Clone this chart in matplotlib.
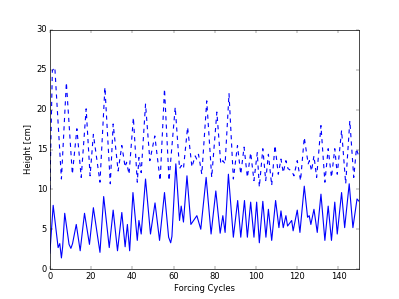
import matplotlib
matplotlib.use("Agg")
import matplotlib.pyplot as plt

# lower curve (solid): turning points
solid_x = [0, 1.6, 4, 4.8, 5.6, 6.2, 7.2, 9.3, 10.2, 11, 12.8, 14.7, 16.8, 19.2, 21.1,
           23.2, 24.3, 26.1, 28.8, 30.7, 32.8, 34.9, 36.5, 37.6, 38.7, 40.3, 42.4,
           43.2, 44.3, 46.4, 48.8, 51.0, 53.2, 55.6, 57.6, 58.6, 59.2, 61.1, 62.9,
           63.7, 64.8, 66.5, 68.4, 71.3, 73.2, 75.8, 78.2, 80.5, 82.6, 83.9, 85.0,
           86.6, 89.0, 91.1, 92.6, 94.4, 95.8, 97.4, 99.0, 100.3, 101.6, 103.3,
           104.8, 106.0, 107.6, 109.5, 111.1, 112.1, 113.2, 114.5, 115.3, 117.3,
           118.0, 120.0, 121.3, 123.4, 125.0, 125.8, 126.6, 128.1, 129.7, 131.5,
           133.4, 135.0, 136.6, 138.2, 139.4, 141.5, 143.0, 145.2, 147.0, 149.0, 150]
solid_y = [2.0, 8.0, 2.7, 3.2, 1.4, 2.8, 7.0, 3.1, 2.6, 3.2, 5.6, 2.3, 7.0, 3.1, 7.7,
           4.0, 2.1, 9.1, 2.7, 7.4, 2.3, 7.1, 2.8, 5.6, 2.3, 9.6, 3.6,
           6.1, 4.4, 11.3, 4.4, 8.3, 3.6, 9.6, 4.0, 3.3, 4.1, 13.2, 6.1,
           7.9, 5.9, 11.7, 5.6, 6.7, 5.0, 11.5, 4.4, 9.8, 4.5, 6.7, 4.6,
           11.9, 4.0, 8.6, 4.0, 8.6, 4.0, 8.4, 4.0, 8.4, 3.3, 8.5,
           4.0, 7.5, 3.6, 8.6, 5.2, 7.3, 5.2, 6.7, 5.4, 6.1,
           4.8, 7.4, 4.6, 10.4, 6.5, 6.7, 5.6, 7.5, 4.6, 9.4,
           3.6, 7.9, 3.6, 8.4, 4.4, 9.6, 5.2, 10.7, 5.2, 8.8, 8.5]

# upper curve (dashed)
dash_x = [0, 1.2, 2.4, 5.6, 8.0, 10.9, 13.1, 15.2, 17.6, 19.5, 21.1, 24.3, 26.7,
          29.3, 30.7, 33.1, 34.9, 36.5, 37.2, 38.4, 40.5, 42.4, 43.2, 44.3, 46.4,
          48.5, 50.9, 53.5, 55.6, 57.8, 60.8, 62.9, 63.8, 64.8, 66.8, 68.9, 70.5,
          71.2, 72.1, 73.7, 76.1, 78.5, 81.0, 82.9, 83.9, 85.0, 86.9, 89.0, 91.0,
          92.6, 94.2, 95.8, 97.4, 99.0, 100.6, 101.6, 103.3, 104.7, 106.0, 107.6,
          109.2, 110.8, 112.1, 113.2, 114.5, 115.5, 117.3, 118.4, 120.0, 121.6,
          123.4, 125.3, 125.9, 126.9, 128.1, 129.4, 131.5, 133.4, 135.0, 136.6,
          138.2, 139.4, 141.5, 143.5, 145.5, 147.4, 148.7, 150]
dash_y = [10.0, 24.9, 25.3, 11.3, 23.4, 11.9, 17.6, 11.5, 20.1, 11.7, 16.9, 10.9, 22.8,
          10.7, 18.2, 12.3, 15.5, 12.8, 13.4, 11.9, 19.0, 10.9, 14.0, 12.1, 20.7,
          13.6, 16.7, 11.1, 22.6, 11.1, 20.3, 12.6, 13.0, 12.6, 17.8, 12.8, 14.2,
          13.8, 14.4, 11.9, 21.1, 11.5, 19.7, 13.2, 13.6, 13.2, 22.0, 11.3, 15.5,
          11.9, 15.3, 11.5, 14.6, 11.1, 14.6, 10.3, 15.1, 11.1, 14.4, 10.5,
          15.5, 11.9, 13.8, 12.1, 13.6, 12.6, 12.3, 11.7, 13.6, 11.1,
          16.5, 13.2, 13.6, 12.3, 14.2, 11.5, 18.0, 10.9, 15.1, 11.5,
          15.1, 11.9, 17.4, 10.7, 18.6, 11.5, 15.1, 14.0]

plt.style.use("classic")
fig = plt.figure(figsize=(7.98, 5.98), dpi=50)
ax = fig.add_subplot(111)
fig.subplots_adjust(left=0.125, right=0.9, bottom=0.1, top=0.9)

ax.plot(dash_x, dash_y, "b--", lw=1.6, solid_joinstyle="round", dash_joinstyle="round")
ax.plot(solid_x, solid_y, "b-", lw=1.6, solid_joinstyle="round")

ax.set_xlim(0, 150)
ax.set_ylim(0, 30)
ax.set_xlabel("Forcing Cycles")
ax.set_ylabel("Height [cm]")

fig.savefig("out.png", dpi=50)
